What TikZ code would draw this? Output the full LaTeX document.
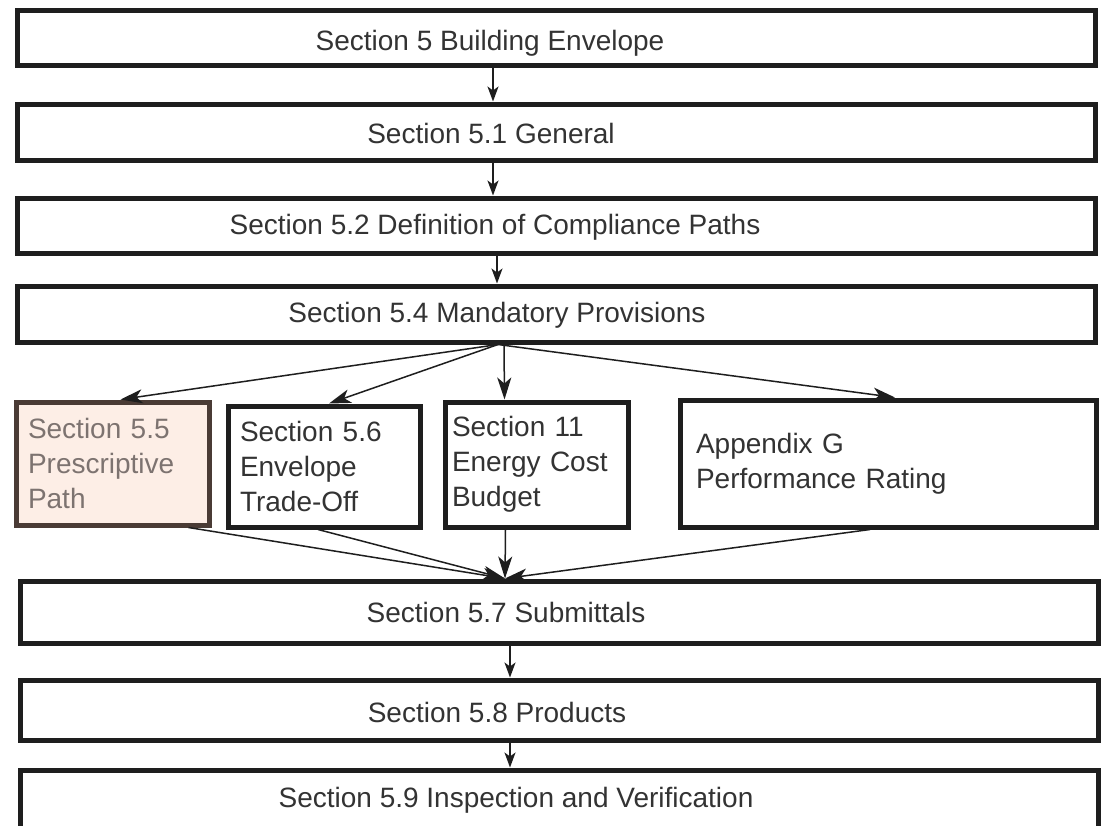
\documentclass[tikz,border=0pt]{standalone}
\usepackage{fontspec}
\setmainfont{Liberation Sans}
\usetikzlibrary{arrows.meta}

\definecolor{boxline}{HTML}{1E1E1E}
\definecolor{boxtext}{HTML}{333333}
\definecolor{prescfill}{HTML}{FDEEE6}
\definecolor{prescline}{HTML}{4A3B35}
\definecolor{presctext}{HTML}{7D7370}

\begin{document}
\begin{tikzpicture}[x=1pt, y=-1pt,
		wide/.style={draw=boxline, line width=5pt, minimum width=1078pt, inner sep=0pt},
		boxlabel/.style={text=boxtext, font=\fontsize{28}{34}\selectfont, inner sep=0pt, text height=20pt, text depth=0pt},
		midbox/.style={draw=boxline, line width=5pt, text=boxtext, font=\fontsize{28}{35}\selectfont, align=left},
		flow/.style={draw=boxline, line width=1.5pt, -{Stealth[length=15pt, width=11pt, inset=4pt]}},
		fan/.style={draw=boxline, line width=1.5pt, -{Stealth[length=22pt, width=14pt, inset=6pt]}}]
		%page
		\clip (0,0) rectangle (1103,825);
		\fill[white] (0,0) rectangle (1103,825);
		
		%upper column
		\node[wide, minimum height=55pt] (s5) at (556,37.5) {};
		\node[boxlabel] (s5txt) at (490,40) {Section 5 Building Envelope};
		\node[wide, minimum height=56pt] (s51) at (556,132) {};
		\node[boxlabel] (s51txt) at (491,133) {Section 5.1 General};
		\node[wide, minimum height=55pt] (s52) at (556,225.5) {};
		\node[boxlabel] (s52txt) at (495,224) {Section 5.2 Definition of Compliance Paths};
		\node[wide, minimum height=56pt] (s54) at (556,314) {};
		\node[boxlabel] (s54txt) at (497,312) {Section 5.4 Mandatory Provisions};
		
		%compliance paths
		\node[midbox, fill=prescfill, draw=prescline, text=presctext, minimum width=193pt, minimum height=123pt, text width=169pt, inner xsep=12pt] (s55) at (112.5,463.5) {Section 5.5\\Prescriptive\\Path};
		\node[midbox, minimum width=192pt, minimum height=121pt, text width=168pt, inner xsep=12pt] (s56) at (324,466.5) {Section 5.6\\Envelope\\Trade-Off};
		\node[midbox, minimum width=183pt, minimum height=125pt, text width=169pt, inner xsep=7pt] (s11) at (536.5,464.5) {Section 11\\Energy Cost\\Budget};
		\node[midbox, minimum width=416pt, minimum height=127pt, text width=384pt, inner xsep=16pt] (appg) at (888,463.5) {Appendix G\\Performance Rating};
		
		%lower column
		\node[wide, minimum height=62pt] (s57) at (559,612) {};
		\node[boxlabel] (s57txt) at (506,612) {Section 5.7 Submittals};
		\node[wide, minimum height=60pt] (s58) at (559,710) {};
		\node[boxlabel] (s58txt) at (497,712) {Section 5.8 Products};
		\node[wide, minimum height=80pt] (s59) at (559,810) {};
		\node[boxlabel] (s59txt) at (516,797) {Section 5.9 Inspection and Verification};
		
		%straight flow
		\foreach \a/\b/\dx in {s5/s51/-63, s51/s52/-63, s52/s54/-59, s57/s58/-49, s58/s59/-49}
			\draw[flow] ([xshift=\dx pt]\a.south) -- ([xshift=\dx pt]\b.north);
		
		%split into the paths
		\coordinate (fan) at ([xshift=-58pt]s54.south);
		\draw[fan] (fan) -- ([xshift=8pt]s55.north);
		\draw[fan] (fan) -- ([xshift=5pt]s56.north);
		\draw[fan] ([xshift=-52pt]s54.south) -- ([xshift=-32pt]s11.north);
		\draw[fan] (fan) -- ([xshift=7pt]appg.north);
		
		%merge into submittals
		\coordinate (merge) at ([xshift=-54pt]s57.north);
		\draw[fan] ([xshift=76pt]s55.south) -- (merge);
		\draw[fan] ([xshift=-6pt]s56.south) -- (merge);
		\draw[fan] ([xshift=-31pt]s11.south) -- (merge);
		\draw[fan] ([xshift=-18pt]appg.south) -- (merge);
	\end{tikzpicture}
\end{document}
